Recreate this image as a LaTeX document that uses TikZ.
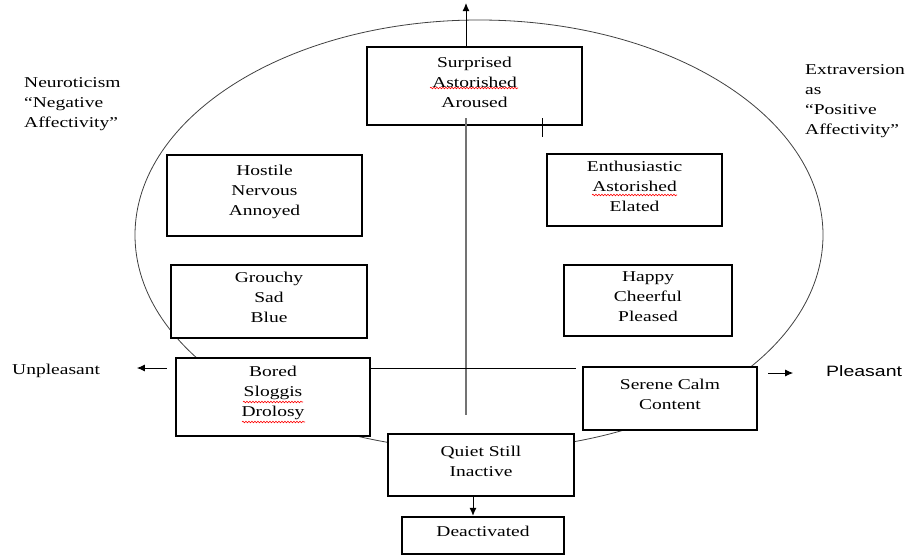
\documentclass[tikz,border=0pt]{standalone}
\usepackage{fontspec}
\setmainfont[FakeStretch=1.3]{Liberation Serif}
\newfontfamily\arialfont[FakeStretch=1.3]{Liberation Sans}
\usetikzlibrary{positioning,arrows.meta,decorations.pathmorphing}

\begin{document}
\begin{tikzpicture}[x=1pt,y=-1pt,
		every node/.style={font=\fontsize{15}{20}\selectfont},
		mood/.style={draw,line width=2.4pt,fill=white,inner sep=0pt,
			label={[align=center,yshift=4pt]center:#1}},
		tip/.style={-{Latex[length=8pt,width=7pt]},line width=1pt},
		typo/.style={red,line width=0.6pt,decorate,decoration={snake,segment length=3pt,amplitude=0.8pt}}]
		\useasboundingbox (0,0) rectangle (908,557);

		% Circumplex
		\draw[line width=0.8pt,black!75] (479,235) ellipse (344pt and 215pt);

		% Mood boxes
		\node[mood={Surprised\\Astorished\\Aroused},minimum width=215pt,minimum height=78pt] (surp) at (474.5,86) {};
		\node[mood={Hostile\\Nervous\\Annoyed},minimum width=195pt,minimum height=81pt] (host) at (264.5,195.5) {};
		\node[mood={Grouchy\\Sad\\Blue},minimum width=196pt,minimum height=73pt] (grou) at (269,301.5) {};
		\node[mood={Bored\\Sloggis\\Drolosy},minimum width=194pt,minimum height=78pt] (bore) at (273,397) {};
		\node[mood={Enthusiastic\\Astorished\\Elated},minimum width=175pt,minimum height=72pt] (enth) at (634.5,190) {};
		\node[mood={Happy\\Cheerful\\Pleased},minimum width=168pt,minimum height=71pt] (happ) at (648,300.5) {};
		\node[mood={Serene Calm\\Content},minimum width=174pt,minimum height=63pt] (sere) at (670,398.5) {};
		\node[mood={Quiet Still\\Inactive},minimum width=186pt,minimum height=62pt] (quie) at (481,465) {};
		\node[mood={Deactivated},minimum width=162pt,minimum height=37pt] (deac) at (483,535.5) {};

		% Spelling marks
		\draw[typo] (430,88) -- (518,88);
		\draw[typo] (592,195) -- (677,195);
		\draw[typo] (243,402) -- (303,402);
		\draw[typo] (242,422) -- (305,422);

		% Axes
		\coordinate (top) at (466,3);
		\coordinate (vtop) at (466,118);
		\coordinate (vbot) at (466,415);
		\coordinate (hend) at (576,368);
		\draw[tip] (surp.north -| top) -- (top);
		\draw[line width=1.5pt,black!55] (vtop) -- (vbot);
		\draw[line width=1pt] (542,118) -- (542,137);
		\draw[line width=0.8pt] (bore.east |- hend) -- (hend);
		\draw[tip] ([xshift=-8pt]bore.west |- hend) -- ++(-30,0);
		\draw[tip] ([xshift=10pt]sere.east |- 0,373) -- ++(25,0);
		\draw[tip] ([xshift=-8pt]quie.south) -- ([xshift=-8pt]quie.south |- deac.north);

		% Labels
		\node[anchor=west,align=left,inner sep=0pt] (neur) at (24,104) {Neuroticism\\``Negative\\Affectivity''};
		\node[anchor=west,align=left,inner sep=0pt] (extr) at (805,101) {Extraversion\\as\\``Positive\\Affectivity''};
		\node[anchor=west,inner sep=0pt] (unpl) at (12,371) {Unpleasant};
		\node[anchor=west,inner sep=0pt,font=\fontsize{15}{20}\arialfont] (plea) at (826,371) {Pleasant};
	\end{tikzpicture}
\end{document}
